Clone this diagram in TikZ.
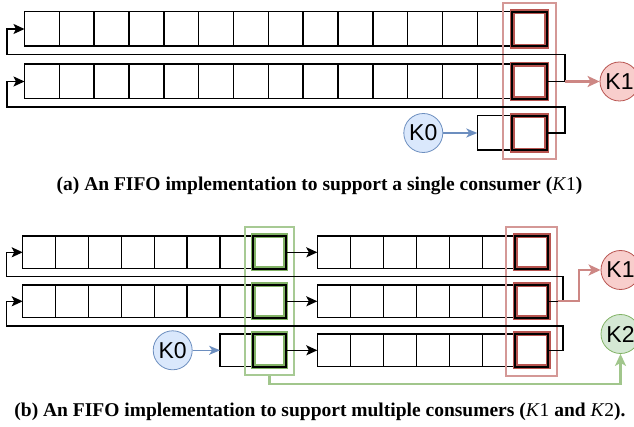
\documentclass[tikz,border=0pt]{standalone}
\usepackage{fontspec}
\setmainfont{Liberation Serif}
\setsansfont{Liberation Sans}
\usetikzlibrary{arrows.meta,fit}
\definecolor{redS}{HTML}{B85450}
\definecolor{redF}{HTML}{F8CECC}
\definecolor{blueS}{HTML}{6C8EBF}
\definecolor{blueF}{HTML}{DAE8FC}
\definecolor{greenS}{HTML}{82B366}
\definecolor{greenF}{HTML}{D5E8D4}
\newcommand{\mK}[1]{\textmd{\textit{K}#1}}
\tikzset{
  cellbase/.style={draw=black, line width=1.5pt, inner sep=0pt, outer sep=0pt},
  cellA/.style={cellbase, minimum width=34.83pt, minimum height=34.5pt},
  cellL/.style={cellbase, minimum width=32.9pt, minimum height=32.7pt},
  cellR/.style={cellbase, minimum width=33pt, minimum height=32.7pt},
  hlred/.style={line width=2pt, preaction={draw=redS, line width=5pt}},
  hlgreen/.style={line width=2pt, preaction={draw=greenS, line width=5pt}},
  redbox/.style={draw=redS!60, line width=2pt, inner sep=9pt},
  greenbox/.style={draw=greenS!70, line width=2pt, inner sep=8.5pt},
  conn/.style={draw=black, line width=1.5pt, -{Stealth[length=11pt,width=10pt,inset=2.5pt]}},
  kbase/.style={circle, line width=0.8pt, minimum size=39pt, inner sep=0pt,
    font=\sffamily\fontsize{23}{23}\selectfont},
  kred/.style={kbase, draw=redS, fill=redF},
  kblue/.style={kbase, draw=blueS, fill=blueF},
  kgreen/.style={kbase, draw=greenS, fill=greenF},
  redarrow/.style={draw=redS!70, line width=2.2pt, -{Stealth[length=12pt,width=11pt,inset=3pt]}},
  bluearrow/.style={draw=blueS, line width=1.5pt, -{Stealth[length=11pt,width=9pt,inset=3pt]}},
  greenarrow/.style={draw=greenS!75, line width=2.2pt, -{Stealth[length=12pt,width=11pt,inset=3pt]}},
  caption/.style={font=\bfseries\fontsize{19.5}{19.5}\selectfont, inner sep=0pt}
}
\begin{document}
\begin{tikzpicture}[x=1pt,y=-1pt]
\useasboundingbox (0,0) rectangle (634,427);
% ---------- (a) ----------
\foreach \i in {1,...,14} {
  \node[cellA] (a1-\i) at ({24.5+(\i-0.5)*34.83},29) {};
  \node[cellA] (a2-\i) at ({24.5+(\i-0.5)*34.83},81.5) {};
}
\node[cellA] (a3-14) at ({24.5+13.5*34.83},133) {};
\foreach \r/\y in {1/29,2/81.5,3/133}
  \node[cellA, hlred] (a\r-15) at ({24.5+14.5*34.83},\y) {};
\node[redbox, fit=(a1-15)(a3-15)] (ra) {};
\node[kred] (k1a) at (619.5,81.5) {K1};
\node[kblue] (k0a) at (423.3,133) {K0};
\coordinate (ja2) at (565,81.5);
\coordinate (ja3) at (565,133);
\draw[conn] (a2-15.east) -- (ja2) -- (565,54.5) -- (7,54.5) |- (a1-1.west);
\draw[conn] (a3-15.east) -- (ja3) -- (565,107) -- (7,107) |- (a2-1.west);
\draw[redarrow] (ja2) -- (k1a);
\draw[bluearrow] (k0a) -- (a3-14.west);
\node[caption] (capa) at (319.5,186) {(a) An FIFO implementation to support a single consumer (\mK{1})};
% ---------- (b) ----------
\foreach \i in {1,...,7} {
  \node[cellL] (bL1-\i) at ({22.7+(\i-0.5)*32.9},252.3) {};
  \node[cellL] (bL2-\i) at ({22.7+(\i-0.5)*32.9},301.3) {};
}
\node[cellL] (bL3-7) at ({22.7+6.5*32.9},350.3) {};
\foreach \r/\y in {1/252.3,2/301.3,3/350.3} {
  \node[cellL, hlgreen] (bL\r-8) at ({22.7+7.5*32.9},\y) {};
  \foreach \i in {1,...,6}
    \node[cellR] (bR\r-\i) at ({317.3+(\i-0.5)*33},\y) {};
  \node[cellR, hlred] (bR\r-7) at ({317.3+6.5*33},\y) {};
}
\node[greenbox, fit=(bL1-8)(bL3-8)] (gb) {};
\node[redbox, fit=(bR1-7)(bR3-7)] (rb) {};
\foreach \r in {1,2,3}
  \draw[conn] (bL\r-8.east) -- (bR\r-1.west);
\coordinate (jb2) at (563,301.3);
\draw[conn] (bR2-7.east) -- (jb2) -- (563,276.7) -- (6.7,276.7) |- (bL1-1.west);
\draw[conn] (bR3-7.east) -- (563,350.3) -- (563,326) -- (6.7,326) |- (bL2-1.west);
\node[kred] (k1b) at (620.5,270) {K1};
\node[kgreen] (k2b) at (620.5,334) {K2};
\node[kblue] (k0b) at (172.7,350.3) {K0};
\draw[redarrow] (rb.east |- jb2) -- (579,301.3) |- (k1b);
\draw[greenarrow] (gb.south) -- ++(0,7.7) -| (k2b);
\draw[bluearrow] (k0b) -- (bL3-7.west);
\node[caption] (capb) at (320,412) {(b) An FIFO implementation to support multiple consumers (\mK{1} and \mK{2}).};
\end{tikzpicture}
\end{document}
